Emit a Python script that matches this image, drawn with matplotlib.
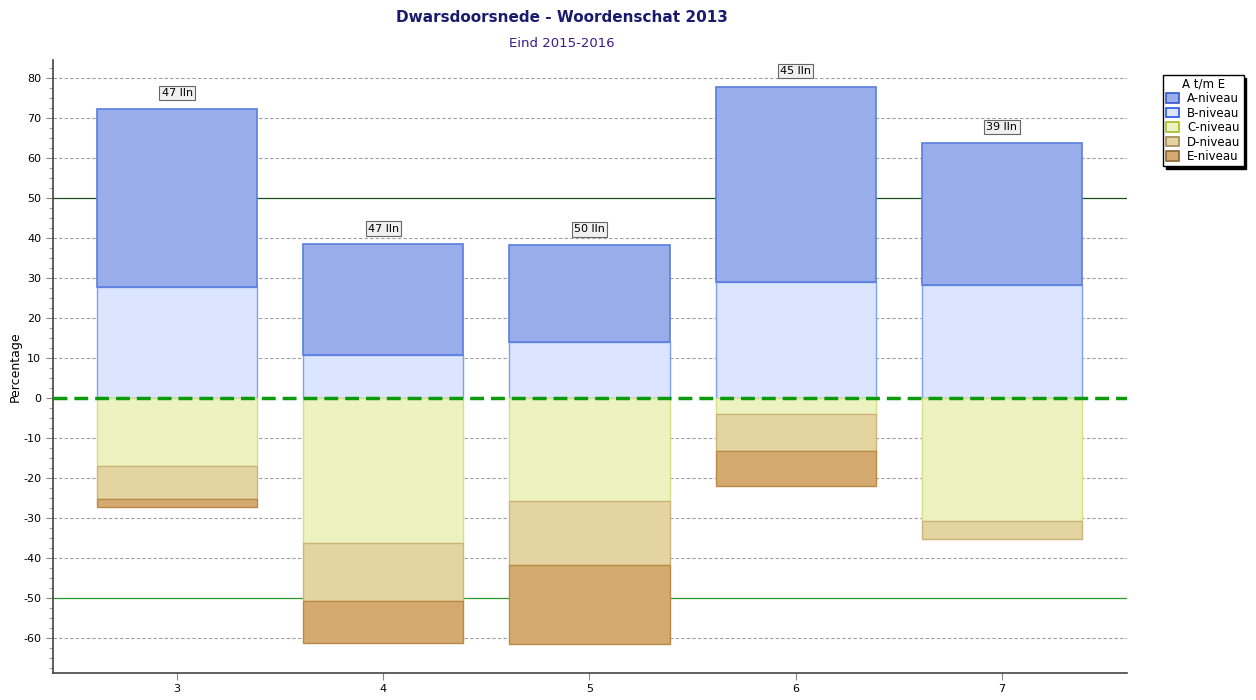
import matplotlib.pyplot as plt
from matplotlib.ticker import MultipleLocator
from matplotlib.patches import Patch

plt.rcParams["axes.unicode_minus"] = False

groups = [3, 4, 5, 6, 7]
a_niv = [44.6, 27.7, 24.2, 48.9, 35.6]
b_niv = [27.7, 10.7, 14.0, 28.9, 28.2]
c_niv = [17.0, 36.2, 25.9, 4.0, 30.7]
d_niv = [8.4, 14.7, 16.0, 9.2, 4.7]
e_niv = [1.8, 10.4, 19.7, 8.7, 0.0]
n_lln = ["47 lln", "47 lln", "50 lln", "45 lln", "39 lln"]

levels = ["A-niveau", "B-niveau", "C-niveau", "D-niveau", "E-niveau"]
fills = ["#98adea", "#dce5fe", "#edf3c0", "#e4d4a1", "#d4aa70"]
edges = ["#5a7ee0", "#7f9ff0", "#d6df88", "#cdb47a", "#b98a45"]
edges_leg = ["#3355cc", "#2255ee", "#aabb22", "#a08850", "#8a6530"]

fig = plt.figure(figsize=(12.56, 7), dpi=100)
ax = fig.add_axes([0.0422, 0.0386, 0.8551, 0.8754])

w = 0.777
# positive side: B from 0, A on top
ax.bar(groups, b_niv, w, color=fills[1], edgecolor=edges[1], linewidth=1, zorder=3)
ax.bar(groups, a_niv, w, bottom=b_niv, color=fills[0], edgecolor=edges[0], linewidth=1.2, zorder=3)
# negative side: C from 0 downwards, then D, then E
negc = [-v for v in c_niv]
negd = [-v for v in d_niv]
nege = [-v for v in e_niv]
ax.bar(groups, negc, w, color=fills[2], edgecolor=edges[2], linewidth=1, zorder=3)
ax.bar(groups, negd, w, bottom=negc, color=fills[3], edgecolor=edges[3], linewidth=1, zorder=3)
be = [c + d for c, d in zip(negc, negd)]
for g, v, b in zip(groups, nege, be):
    if v != 0:
        ax.bar(g, v, w, bottom=b, color=fills[4], edgecolor=edges[4], linewidth=1, zorder=3)

# count labels above bars
for g, a, b, t in zip(groups, a_niv, b_niv, n_lln):
    ax.annotate(t, (g, a + b), xytext=(0, 11.5), textcoords="offset points",
                ha="center", va="center", fontsize=8, zorder=5,
                bbox=dict(boxstyle="square,pad=0.2", fc="#f0f0f0", ec="#666666", lw=0.8))

# grid and reference lines
for yv in range(-60, 90, 10):
    if yv in (0, 50, -50):
        continue
    ax.axhline(yv, color="#a0a0a0", lw=0.8, ls=(0, (3, 2)), zorder=1)
ax.axhline(50, color="#1c4e1c", lw=0.9, zorder=2)
ax.axhline(-50, color="#2a9a2a", lw=0.9, zorder=2)
ax.axhline(0, color="#0a9a0a", lw=2.5, ls=(0, (4, 2)), zorder=4)

ax.set_xlim(2.398, 7.607)
ax.set_ylim(-68.8, 84.5)
ax.set_xticks(groups)
ax.yaxis.set_major_locator(MultipleLocator(10))
ax.yaxis.set_minor_locator(MultipleLocator(2.5))
ax.tick_params(axis="both", labelsize=8, color="#888888")
ax.tick_params(axis="y", which="major", length=5)
ax.tick_params(axis="y", which="minor", length=3, color="#888888")
ax.tick_params(axis="x", length=5, pad=3)
for s in ("top", "right"):
    ax.spines[s].set_visible(False)
for s in ("left", "bottom"):
    ax.spines[s].set_color("#444444")
    ax.spines[s].set_linewidth(1.2)
ax.set_ylabel("Percentage", fontsize=9, labelpad=1)

fig.text(0.4475, 0.975, "Dwarsdoorsnede - Woordenschat 2013", ha="center", va="center",
         fontsize=11, fontweight="bold", color="#1a1a6e")
fig.text(0.4475, 0.938, "Eind 2015-2016", ha="center", va="center", fontsize=9.5, color="#3a1a8a")

handles = [Patch(facecolor=f, edgecolor=e, lw=1.2) for f, e in zip(fills, edges_leg)]
leg = fig.legend(handles, levels, title="A t/m E", loc="upper left",
                 bbox_to_anchor=(0.926, 0.893), fontsize=8.5, title_fontsize=8.5,
                 frameon=True, fancybox=False, shadow={"color": "black", "alpha": 1},
                 handlelength=1.1, handleheight=0.85, handletextpad=0.7,
                 borderpad=0.25, labelspacing=0.12, borderaxespad=0)
leg.get_frame().set_edgecolor("black")
leg.get_frame().set_linewidth(1)

fig.savefig("out.png", dpi=100)
